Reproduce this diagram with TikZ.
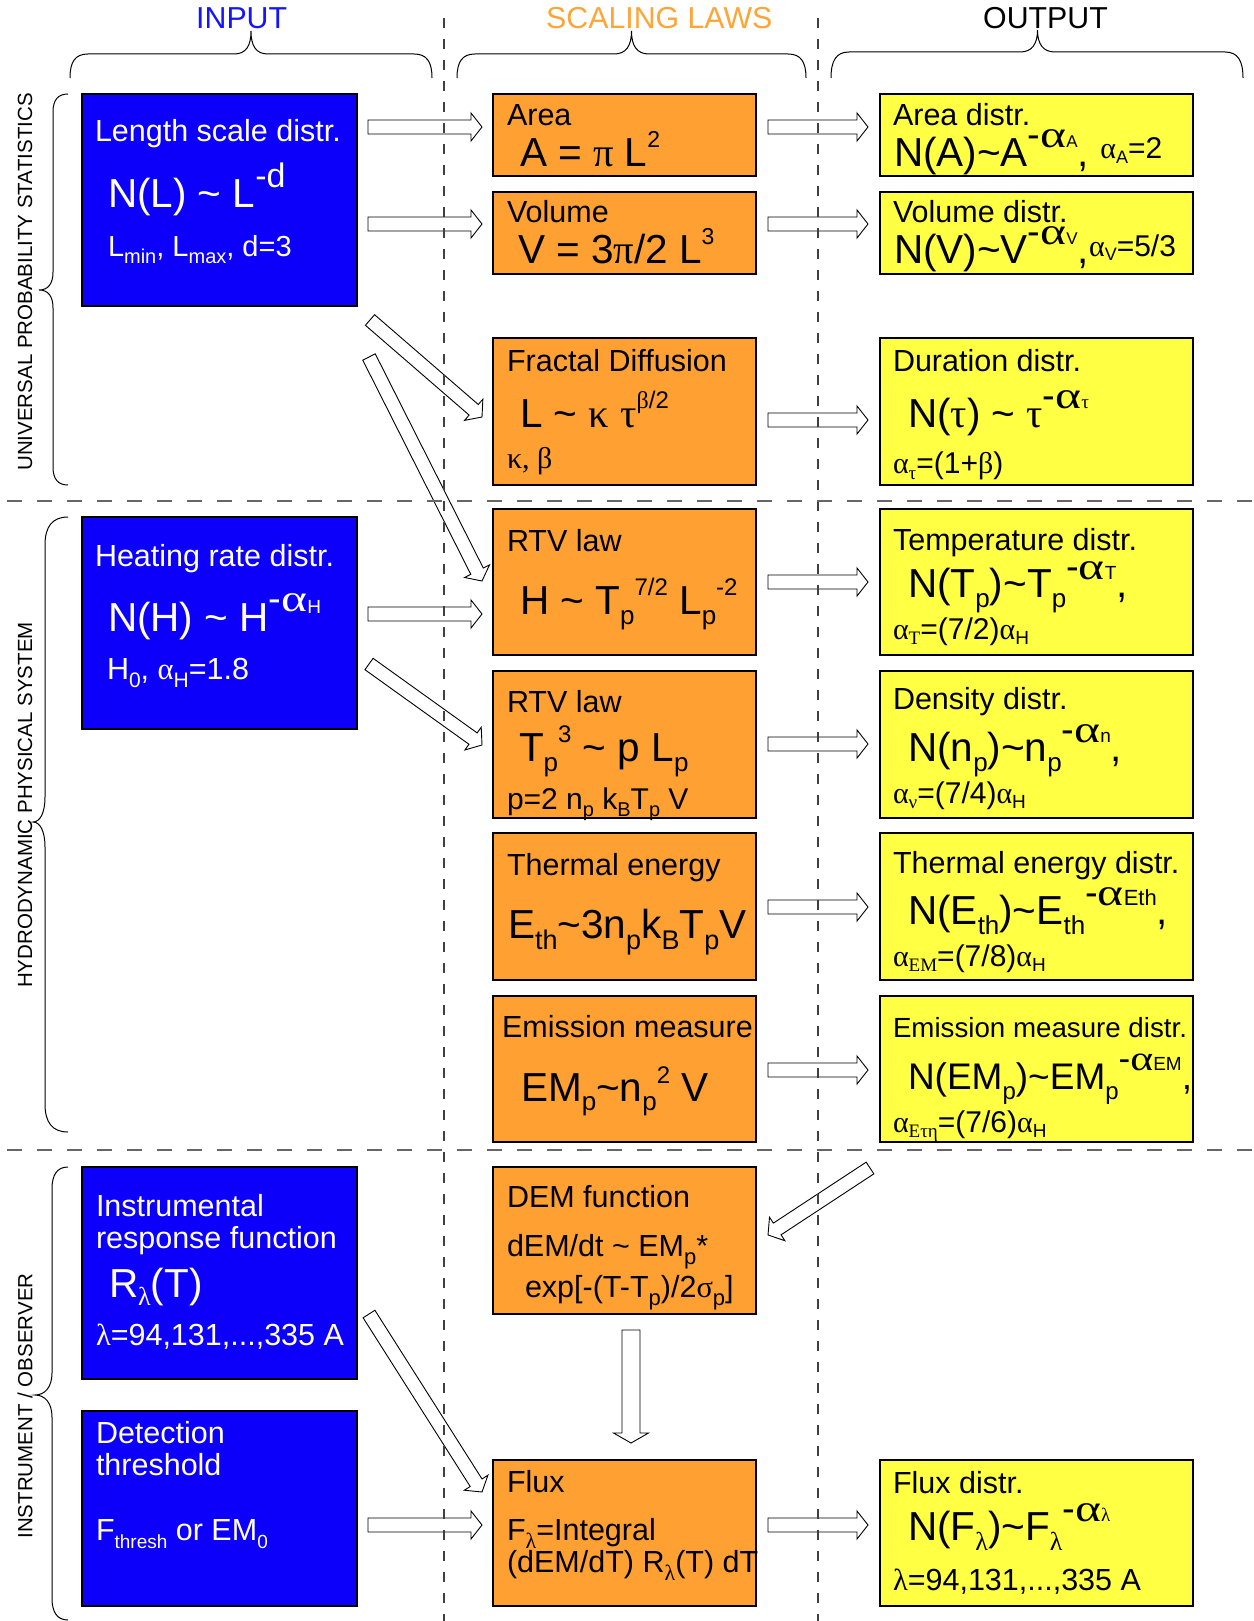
\documentclass[tikz,border=0pt]{standalone}
\usepackage{fontspec}
\setmainfont{Liberation Sans}
\newfontfamily\grk{Liberation Serif}
\usepackage{graphicx}
\usetikzlibrary{calc}

\definecolor{boxblue}{RGB}{12,0,250}
\definecolor{boxorange}{RGB}{255,160,51}
\definecolor{boxyellow}{RGB}{255,255,68}
\definecolor{titleorange}{RGB}{255,165,55}
\definecolor{titleblue}{RGB}{20,20,255}

\newcommand\g[1]{{\grk #1}}
\newcommand\tl{\textasciitilde}
\newcommand\rs[3]{\raisebox{#1pt}{\fontsize{#2pt}{#2pt}\selectfont #3}}
\newcommand\fA{\fontsize{30.5pt}{34pt}\selectfont}
\newcommand\fB{\fontsize{40.5pt}{44pt}\selectfont}
\newcommand\fS{\fontsize{30pt}{34pt}\selectfont}
\newcommand\na[1]{\rs{#1}{38}{-\scalebox{1.3}[1]{\g{α}}}}

\newcommand\blkx[5]{%
 \coordinate (bah) at ($(#2)!#5pt!(#1)$);
 \draw[barrow] ($(#1)!#3pt!90:(#2)$) -- ($(bah)!#3pt!-90:(#1)$) -- ($(bah)!#4pt!-90:(#1)$) -- (#2) -- ($(bah)!#4pt!90:(#1)$) -- ($(bah)!#3pt!90:(#1)$) -- ($(#1)!#3pt!-90:(#2)$) -- cycle;}
\newcommand\blk[2]{\blkx{#1}{#2}{7}{14}{11}}

\tikzset{
  box/.style={draw=black, line width=1.8pt, anchor=north west, inner sep=0pt, outer sep=0pt},
  bbox/.style={box, fill=boxblue, minimum width=275pt},
  obox/.style={box, fill=boxorange, minimum width=263pt},
  ybox/.style={box, fill=boxyellow, minimum width=313pt},
  txt/.style={anchor=base west, inner sep=0pt, outer sep=0pt, text=black},
  wtxt/.style={txt, text=white},
  title/.style={anchor=base west, inner sep=0pt, font=\fontsize{30.3pt}{34pt}\selectfont},
  lab/.style={rotate=90, inner sep=0pt, font=\fontsize{20.5pt}{22pt}\selectfont},
  barrow/.style={draw=black, line width=0.9pt, line join=miter},
  vdash/.style={draw=black!75, line width=1.1pt, dash pattern=on 10pt off 11pt},
  hdash/.style={draw=black!60, line width=1.4pt, dash pattern=on 15pt off 15pt, dash phase=23pt},
  brace/.style={draw=black, line width=1pt}
}

\begin{document}
\begin{tikzpicture}[x=1pt, y=-1pt]
\fill[white] (0,0) rectangle (1253,1621);
\useasboundingbox (0,0) rectangle (1253,1621);

% titles
\node[title, text=titleblue] (tin) at (196,29) {INPUT};
\node[title, text=titleorange] (tsc) at (546,29) {SCALING LAWS};
\node[title] (tout) at (983,29) {OUTPUT};

% top braces
\draw[brace] (70,78) .. controls (70,62) and (75,54) .. (88,54) -- (234,54) .. controls (246,54) and (251,46) .. (251,31) .. controls (251,46) and (256,54) .. (268,54) -- (414,54) .. controls (427,54) and (432,62) .. (432,78);
\draw[brace] (457,78) .. controls (457,62) and (462,54) .. (475,54) -- (614,54) .. controls (626,54) and (631.5,46) .. (631.5,31) .. controls (631.5,46) and (637,54) .. (649,54) -- (788,54) .. controls (801,54) and (806,62) .. (806,78);
\draw[brace] (831,78) .. controls (831,61) and (836,52) .. (849,52) -- (1020,52) .. controls (1032,52) and (1037.5,44) .. (1037.5,30) .. controls (1037.5,44) and (1043,52) .. (1055,52) -- (1225,52) .. controls (1238,52) and (1243,61) .. (1243,78);

% left braces
\draw[brace] (68,94) .. controls (58,94) and (53,100) .. (53,112) -- (53,272) .. controls (53,284) and (48,290) .. (39,290) .. controls (48,290) and (53,296) .. (53,308) -- (53,467) .. controls (53,479) and (58,485) .. (68,485);
\draw[brace] (68,517) .. controls (52,517) and (45,527) .. (45,545) -- (45,797) .. controls (45,813) and (40,822) .. (33,822) .. controls (40,822) and (45,831) .. (45,847) -- (45,1104) .. controls (45,1122) and (52,1132) .. (68,1132);
\draw[brace] (68,1167) .. controls (57,1167) and (52,1175) .. (52,1189) -- (52,1373) .. controls (52,1387) and (45,1395) .. (35,1395) .. controls (45,1395) and (52,1403) .. (52,1417) -- (52,1598) .. controls (52,1612) and (57,1620) .. (68,1620);

% side labels
\node[lab] (lu) at (25,282) {UNIVERSAL PROBABILITY STATISTICS};
\node[lab] (lh) at (25,805) {HYDRODYNAMIC PHYSICAL SYSTEM};
\node[lab] (li) at (25,1406) {INSTRUMENT / OBSERVER};

% boxes
\node[bbox, minimum height=212pt] (b1) at (82,94) {};
\node[bbox, minimum height=212pt] (bh) at (82,517) {};
\node[bbox, minimum height=212pt] (bi) at (82,1167) {};
\node[bbox, minimum height=195pt] (bd) at (82,1411) {};

\node[obox, minimum height=82pt] (o1) at (493,94) {};
\node[obox, minimum height=82pt] (o2) at (493,192) {};
\node[obox, minimum height=147pt] (o3) at (493,338) {};
\node[obox, minimum height=146pt] (o4) at (493,509) {};
\node[obox, minimum height=147pt] (o5) at (493,671) {};
\node[obox, minimum height=147pt] (o6) at (493,833) {};
\node[obox, minimum height=146pt] (o7) at (493,996) {};
\node[obox, minimum height=147pt] (o8) at (493,1167) {};
\node[obox, minimum height=146pt] (o9) at (493,1460) {};

\node[ybox, minimum height=82pt] (y1) at (880,94) {};
\node[ybox, minimum height=82pt] (y2) at (880,192) {};
\node[ybox, minimum height=147pt] (y3) at (880,338) {};
\node[ybox, minimum height=146pt] (y4) at (880,509) {};
\node[ybox, minimum height=147pt] (y5) at (880,671) {};
\node[ybox, minimum height=147pt] (y6) at (880,833) {};
\node[ybox, minimum height=146pt] (y7) at (880,996) {};
\node[ybox, minimum height=146pt] (y9) at (880,1460) {};

% blue texts
\node[wtxt] (b1a) at (95,142) {\fA Length scale distr.};
\node[wtxt] (b1b) at (108,208) {\fB N(L) \tl{} L\rs{20}{34}{-d}};
\node[wtxt] (b1c) at (108,256) {\fontsize{29pt}{32pt}\selectfont L\rs{-8}{20}{min}, L\rs{-8}{20}{max}, d=3};

\node[wtxt] (bha) at (95,566) {\fA Heating rate distr.};
\node[wtxt] (bhb) at (108,631) {\fB N(H) \tl{} H\na{20}\rs{18}{19}{H}};
\node[wtxt] (bhc) at (107,679) {\fA H\rs{-8}{21}{0}, \g{α}\rs{-8}{21}{H}=1.8};

\node[wtxt] (bia) at (96,1216) {\fA Instrumental};
\node[wtxt] (bib) at (96,1248) {\fA response function};
\node[wtxt] (bic) at (109,1297) {\fB R\rs{-8}{26}{\g{λ}}(T)};
\node[wtxt] (bid) at (96,1345) {\fA \g{λ}=94,131,...,335 A};

\node[wtxt] (bda) at (96,1443) {\fA Detection};
\node[wtxt] (bdb) at (96,1475) {\fA threshold};
\node[wtxt] (bdc) at (96,1540) {\fA F\rs{-8}{19}{thresh} or EM\rs{-8}{19}{0}};

% orange texts
\node[txt] (o1a) at (507,126) {\fA Area};
\node[txt] (o1b) at (520,167) {\fB A = \g{π} L\rs{19}{23}{2}};
\node[txt] (o2a) at (507,223) {\fA Volume};
\node[txt] (o2b) at (518,264) {\fB V = 3\g{π}/2 L\rs{19}{23}{3}};
\node[txt] (o3a) at (507,371) {\fA Fractal Diffusion};
\node[txt] (o3b) at (520,427) {\fB L \tl{} \g{κ} \g{τ}\rs{19}{24}{\g{β}/2}};
\node[txt] (o3c) at (507,468) {\fS\g{κ, β}};
\node[txt] (o4a) at (507,551) {\fA RTV law};
\node[txt] (o4b) at (520,614) {\fB H \tl{} T\rs{-10}{26}{p}\rs{19}{24}{7/2} L\rs{-10}{26}{p}\rs{19}{24}{-2}};
\node[txt] (o5a) at (507,712) {\fA RTV law};
\node[txt] (o5b) at (519,761) {\fB T\rs{-10}{26}{p}\rs{19}{24}{3} \tl{} p L\rs{-10}{26}{p}};
\node[txt] (o5c) at (507,809) {\fS p=2 n\rs{-7}{20}{p} k\rs{-7}{20}{B}T\rs{-7}{20}{p} V};
\node[txt] (o6a) at (507,875) {\fA Thermal energy};
\node[txt] (o6b) at (508,938) {\fB E\rs{-11}{27}{th}\tl 3n\rs{-11}{27}{p}k\rs{-11}{27}{B}T\rs{-11}{27}{p}V};
\node[txt] (o7a) at (502,1037) {\fA Emission measure};
\node[txt] (o7b) at (521,1101) {\fB EM\rs{-9}{26}{p}\tl n\rs{-9}{26}{p}\rs{18}{24}{2} V};
\node[txt] (o8a) at (507,1207) {\fA DEM function};
\node[txt] (o8b) at (507,1256) {\fA dEM/dt \tl{} EM\rs{-8}{22}{p}*};
\node[txt] (o8c) at (525,1297) {\fA exp[-(T-T\rs{-8}{22}{p})/2\g{σ}\rs{-8}{22}{p}]};
\node[txt] (o9a) at (507,1492) {\fA Flux};
\node[txt] (o9b) at (507,1540) {\fA F\rs{-8}{22}{\g{λ}}=Integral};
\node[txt] (o9c) at (507,1572) {\fA (dEM/dT) R\rs{-8}{22}{\g{λ}}(T) dT};

% yellow texts
\node[txt] (y1a) at (893,126) {\fA Area distr.};
\node[txt] (y1b) at (894,167) {\fB N(A)\tl A\na{19}\rs{19}{17}{A}, \rs{8}{30}{\g{α}\rs{-5}{18}{A}=2}};
\node[txt] (y2a) at (893,223) {\fA Volume distr.};
\node[txt] (y2b) at (894,264) {\fB N(V)\tl V\na{19}\rs{19}{17}{V},\rs{8}{30}{\g{α}\rs{-5}{18}{V}=5/3}};
\node[txt] (y3a) at (893,371) {\fA Duration distr.};
\node[txt] (y3b) at (908,427) {\fB N(\g{τ}) \tl{} \g{τ}\na{19}\rs{19}{19}{\g{τ}}};
\node[txt] (y3c) at (893,473) {\fS\g{α}\rs{-6}{19}{\g{τ}}=(1+\g{β})};
\node[txt] (y4a) at (893,550) {\fA Temperature distr.};
\node[txt] (y4b) at (908,597) {\fB N(T\rs{-10}{26}{p})\tl T\rs{-10}{26}{p}\na{18}\rs{18}{19}{T},};
\node[txt] (y4c) at (893,639) {\fS\g{α}\rs{-5}{19}{\g{T}}=(7/2)\g{α}\rs{-5}{19}{H}};
\node[txt] (y5a) at (893,709) {\fA Density distr.};
\node[txt] (y5b) at (908,761) {\fB N(n\rs{-10}{26}{p})\tl n\rs{-10}{26}{p}\na{19}\rs{19}{19}{n},};
\node[txt] (y5c) at (893,803) {\fS\g{α}\rs{-5}{19}{\g{ν}}=(7/4)\g{α}\rs{-5}{19}{H}};
\node[txt] (y6a) at (893,873) {\fA Thermal energy distr.};
\node[txt] (y6b) at (908,924) {\fB N(E\rs{-10}{26}{th})\tl E\rs{-10}{26}{th}\na{19}\rs{19}{22}{Eth},};
\node[txt] (y6c) at (893,966) {\fS\g{α}\rs{-5}{19}{\g{EM}}=(7/8)\g{α}\rs{-5}{19}{H}};
\node[txt] (y7a) at (893,1037) {\fontsize{27.7pt}{30pt}\selectfont Emission measure distr.};
\node[txt] (y7b) at (908,1089) {\fontsize{37pt}{42pt}\selectfont N(EM\rs{-10}{24}{p})\tl EM\rs{-10}{24}{p}\rs{19}{35}{-\scalebox{1.25}[1]{\g{α}}}\rs{19}{19}{EM},};
\node[txt] (y7c) at (893,1132) {\fS\g{α}\rs{-5}{19}{\g{Ετη}}=(7/6)\g{α}\rs{-5}{19}{H}};
\node[txt] (y9a) at (893,1493) {\fA Flux distr.};
\node[txt] (y9b) at (908,1540) {\fB N(F\rs{-10}{26}{\g{λ}})\tl F\rs{-10}{26}{\g{λ}}\na{19}\rs{19}{19}{\g{λ}}};
\node[txt] (y9c) at (893,1590) {\fA \g{λ}=94,131,...,335 A};

% arrow end points
\coordinate (l1s) at (368,127);  \coordinate (l1e) at (482,127);
\coordinate (l2s) at (368,224);  \coordinate (l2e) at (482,224);
\coordinate (l3s) at (368,614);  \coordinate (l3e) at (482,614);
\coordinate (l4s) at (368,1525); \coordinate (l4e) at (482,1525);
\coordinate (r1s) at (768,127);  \coordinate (r1e) at (868,127);
\coordinate (r2s) at (768,224);  \coordinate (r2e) at (868,224);
\coordinate (r3s) at (768,420);  \coordinate (r3e) at (868,420);
\coordinate (r4s) at (768,582);  \coordinate (r4e) at (868,582);
\coordinate (r5s) at (768,744);  \coordinate (r5e) at (868,744);
\coordinate (r6s) at (768,907);  \coordinate (r6e) at (868,907);
\coordinate (r7s) at (768,1070); \coordinate (r7e) at (868,1070);
\coordinate (r9s) at (768,1525); \coordinate (r9e) at (868,1525);
\coordinate (d1s) at (370,320);  \coordinate (d1e) at (482,417);
\coordinate (d2s) at (369,357);  \coordinate (d2e) at (482,581);
\coordinate (d3s) at (369,664);  \coordinate (d3e) at (482,745);
\coordinate (d4s) at (369,1314); \coordinate (d4e) at (482,1492);
\coordinate (d5s) at (870,1168); \coordinate (d5e) at (768,1235);
\coordinate (vs) at (631,1330);  \coordinate (ve) at (631,1443);

\blk{l1s}{l1e} \blk{l2s}{l2e} \blk{l3s}{l3e} \blk{l4s}{l4e}
\blk{r1s}{r1e} \blk{r2s}{r2e} \blk{r3s}{r3e} \blk{r4s}{r4e}
\blk{r5s}{r5e} \blk{r6s}{r6e} \blk{r7s}{r7e} \blk{r9s}{r9e}
\blk{d1s}{d1e} \blk{d2s}{d2e} \blk{d3s}{d3e} \blk{d4s}{d4e}
\blk{d5s}{d5e}
\blkx{vs}{ve}{9}{17.5}{10}

% dashed separators
\draw[vdash] (444,18) -- (444,1621);
\draw[vdash] (818,18) -- (818,1621);
\draw[hdash] (0,501) -- (1253,501);
\draw[hdash] (0,1150) -- (1253,1150);
\end{tikzpicture}
\end{document}
